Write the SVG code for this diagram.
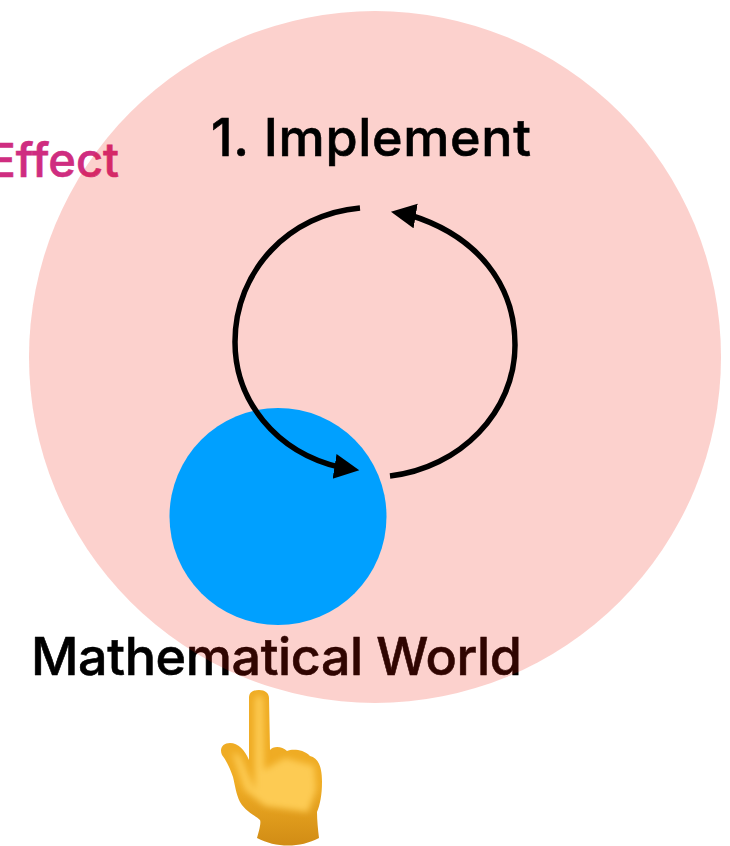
<svg xmlns="http://www.w3.org/2000/svg" width="730" height="846" viewBox="0 0 730 846">
<defs>
<style>
.t{font-family:Inter,"Liberation Sans",Arial,sans-serif;font-weight:500;stroke-width:0.6}
.c{fill:none;stroke:#000;stroke-width:5.500}
</style>
<marker id="a1" markerUnits="userSpaceOnUse" markerWidth="30" markerHeight="30" refX="6" refY="12.500" orient="9" viewBox="0 0 30 30"><path d="M0 0L25 12.500L0 25Z" fill="#000"/></marker>
<marker id="a2" markerUnits="userSpaceOnUse" markerWidth="30" markerHeight="30" refX="6" refY="12.500" orient="189.500" viewBox="0 0 30 30"><path d="M0 0L25 12.500L0 25Z" fill="#000"/></marker>
<linearGradient id="w" x1="0" y1="0" x2="0" y2="1"><stop offset="0" stop-color="#efac24"/><stop offset="0.6" stop-color="#efac24"/><stop offset="1" stop-color="#cf8a14"/></linearGradient>
<filter id="b" x="-20%" y="-20%" width="140%" height="140%"><feGaussianBlur stdDeviation="3"/></filter>
<filter id="b2" x="-50%" y="-10%" width="200%" height="120%"><feGaussianBlur stdDeviation="1.500"/></filter>
<clipPath id="hc"><path d="M257 838C260 828 261 822 260 820C256 816 246 812 240 802C236 794 235 785 233 777C230 768 226 760 222 755C219 748 223 743 230 743C238 743 245 750 249 760L249 698C249 692 253 690 259 690C265 690 269 693 269 698L270 750C273 746 282 746 287 751C292 749 303 749 310 756C318 758 322 766 322 782C322 795 320 805 317 812C317 820 318 830 319 838C300 848 276 848 257 838Z"/></clipPath>
</defs>
<rect width="730" height="846" fill="#fff"/>
<g id="effect"><text class="t" x="119" y="177" text-anchor="end" style="font-size:47px" fill="#cf2d80" stroke="#cf2d80">Effect</text></g>
<g id="world-label"><text class="t" x="31" y="675" style="font-size:52px" textLength="491" stroke="#000">Mathematical World</text></g>
<g id="outer"><circle cx="375" cy="357" r="346" fill="rgb(240,25,5)" fill-opacity="0.2"/></g>
<g id="inner"><circle cx="278" cy="516.500" r="108.500" fill="#00a0ff"/></g>
<g id="implement"><text class="t" x="211" y="156" style="font-size:52px" textLength="320" stroke="#000">1. Implement</text></g>
<g id="connectors">
<path class="c" d="M360 208C290 214 235 270 235 342C235 400 275 452 340.500 467.400" marker-end="url(#a1)"/>
<path class="c" d="M390 476C460 468 515 412 515 345C515 285 478 236 409.700 215" marker-end="url(#a2)"/>
</g>
<g id="hand">
<g clip-path="url(#hc)">
<rect x="215" y="685" width="112" height="165" fill="url(#w)"/>
<path d="M255 790L255 700C256 694 262 694 263 700L264 770L285 758L314 766L316 790L308 812L265 806L245 790L232 752L240 756Z" fill="#fdcb52" filter="url(#b)"/>
<path d="M249 758L249 782" stroke="#d8921a" stroke-width="2" fill="none" filter="url(#b2)"/>
</g>
</g>
</svg>
